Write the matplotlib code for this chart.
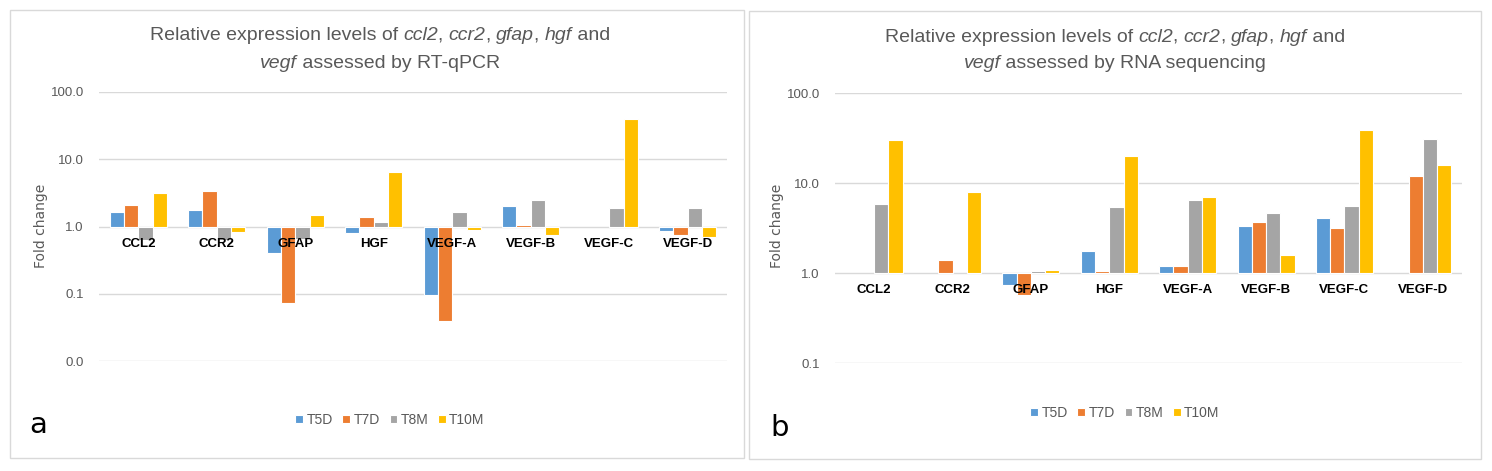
import numpy as np
import matplotlib
matplotlib.use('Agg')
import matplotlib.pyplot as plt
from matplotlib.patches import Rectangle
from matplotlib.ticker import FixedLocator, FormatStrFormatter

plt.rcParams['font.family'] = ['Liberation Sans Narrow', 'Liberation Sans', 'DejaVu Sans']

genes = ['CCL2', 'CCR2', 'GFAP', 'HGF', 'VEGF-A', 'VEGF-B', 'VEGF-C', 'VEGF-D']
groups = ['T5D', 'T7D', 'T8M', 'T10M']
colors = ['#5B9BD5', '#ED7D31', '#A5A5A5', '#FFC000']

# panel a: RT-qPCR fold change (nan = no bar)
qpcr_t5d = [1.62, 1.73, 0.41, 0.79, 0.096, 2.0, np.nan, 0.85]
qpcr_t7d = [2.08, 3.40, 0.074, 1.39, 0.039, 1.07, np.nan, 0.75]
qpcr_t8m = [0.64, 0.64, 0.65, 1.16, 1.62, 2.52, 1.87, 1.87]
qpcr_t10m = [3.17, 0.82, 1.47, 6.44, 0.88, 0.75, 39.2, 0.70]

# panel b: RNA sequencing fold change
rna_t5d = [np.nan, np.nan, 0.74, 1.77, 1.21, 3.30, 4.12, np.nan]
rna_t7d = [np.nan, 1.38, 0.57, 1.04, 1.21, 3.69, 3.19, 12.0]
rna_t8m = [5.8, np.nan, 1.04, 5.46, 6.47, 4.60, 5.6, 31.1]
rna_t10m = [30.0, 7.9, 1.07, 19.8, 6.99, 1.58, 38.8, 15.8]

W, H = 1492, 471
fig = plt.figure(figsize=(W / 100, H / 100), dpi=100)

# panel frames
for x0, y0, x1, y1 in [(10, 10, 744, 458), (749, 11, 1481, 459)]:
    fig.patches.append(Rectangle((x0 / W, 1 - y1 / H), (x1 - x0) / W, (y1 - y0) / H,
                                 transform=fig.transFigure, fill=False,
                                 edgecolor='#D9D9D9', linewidth=1))


def rich_title(xc, ypix, runs):
    # one centered line made of normal/italic pieces
    r = fig.canvas.get_renderer()
    txts = []
    for s, it in runs:
        t = fig.text(0, 1 - ypix / H, s, fontsize=14, color='#595959',
                     style='italic' if it else 'normal', va='center', ha='left')
        txts.append(t)
    widths = [t.get_window_extent(r).width for t in txts]
    x = xc - sum(widths) / 2
    for t, w in zip(txts, widths):
        t.set_x(x / W)
        x += w


def panel(rect, series, ymin, title_runs, letter, xc, ytitle, yleg, xletter, yletter, xfold):
    ax = fig.add_axes(rect)
    ax.set_yscale('log')
    x = np.arange(len(genes))
    bw = 0.182
    for k, (vals, c) in enumerate(zip(series, colors)):
        v = np.array(vals)
        ax.bar(x + (k - 1.5) * bw, v - 1, bottom=1, width=bw, color=c,
               edgecolor='white', linewidth=0.8, label=groups[k])
    ax.set_xlim(-0.5, len(genes) - 0.5)
    ax.set_ylim(ymin, 100)
    ticks = [t for t in [0.01, 0.1, 1, 10, 100] if t >= ymin]
    ax.yaxis.set_major_locator(FixedLocator(ticks))
    ax.yaxis.set_minor_locator(FixedLocator([]))
    ax.yaxis.set_major_formatter(FormatStrFormatter('%.1f'))
    ax.tick_params(axis='y', length=0, labelsize=9.5, labelcolor='#595959', pad=11)
    ax.set_xticks([])
    for s in ax.spines.values():
        s.set_visible(False)
    ax.grid(axis='y', color='#D9D9D9', linewidth=1)
    ax.set_axisbelow(True)
    for i, g in enumerate(genes):
        ax.annotate(g, (i, 1), xytext=(0, -12.5), textcoords='offset points',
                    ha='center', va='center', fontsize=9.5, fontweight='bold', color='black')
    fig.text(xfold / W, 1 - 226 / H, 'Fold change', rotation=90, fontsize=10,
             color='#595959', ha='center', va='center', family='DejaVu Sans')
    rich_title(xc, ytitle[0], title_runs[0])
    rich_title(xc, ytitle[1], title_runs[1])
    fig.legend(*ax.get_legend_handles_labels(), loc='center', ncol=4,
               bbox_to_anchor=((xc + 10) / W, 1 - yleg / H), frameon=False,
               fontsize=10, handlelength=0.55, handleheight=0.55, handletextpad=0.25,
               columnspacing=0.7, labelcolor='#595959')
    fig.text(xletter / W, 1 - yletter / H, letter, fontsize=21, ha='center',
             va='center', family='DejaVu Sans')
    return ax


line1 = [('Relative expression levels of ', False), ('ccl2', True), (', ', False),
         ('ccr2', True), (', ', False), ('gfap', True), (', ', False),
         ('hgf', True), (' and', False)]

panel([99 / W, 1 - 361 / H, 628 / W, 269 / H],
      [qpcr_t5d, qpcr_t7d, qpcr_t8m, qpcr_t10m], 0.01,
      [line1, [('vegf', True), (' assessed by RT-qPCR', False)]],
      'a', 380, (36, 63), 420, 38, 425, 41)

panel([835 / W, 1 - 363 / H, 627 / W, 270 / H],
      [rna_t5d, rna_t7d, rna_t8m, rna_t10m], 0.1,
      [line1, [('vegf', True), (' assessed by RNA sequencing', False)]],
      'b', 1115, (37, 64), 413, 780, 428, 777)

fig.savefig('out.png', dpi=100)
